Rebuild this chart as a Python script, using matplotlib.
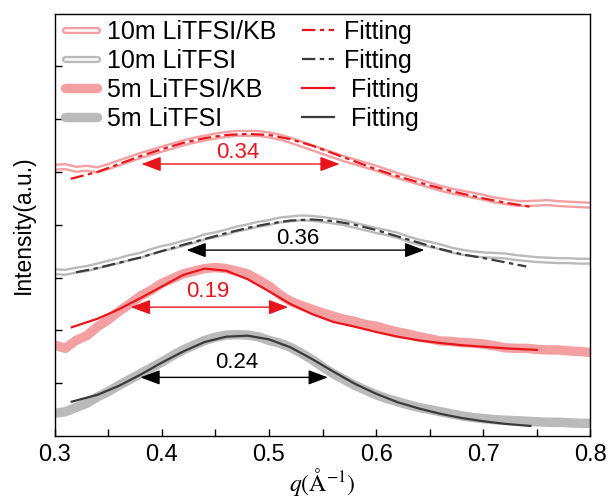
import matplotlib
matplotlib.use('Agg')
import matplotlib.pyplot as plt
import matplotlib.patheffects as pe
import numpy as np

# q grid of the measured curves (0.30 ... 0.80)
q = np.round(np.arange(0.30, 0.8001, 0.01), 2)

kb10 = [5.09, 5.10, 5.05, 5.07, 5.04, 5.10, 5.17, 5.24, 5.31, 5.37, 5.43, 5.49, 5.55, 5.60, 5.64, 5.68,
        5.71, 5.73, 5.73, 5.73, 5.70, 5.66, 5.60, 5.53, 5.46, 5.39, 5.32, 5.25, 5.19, 5.13, 5.07, 5.00,
        4.93, 4.87, 4.81, 4.75, 4.69, 4.64, 4.60, 4.56, 4.52, 4.47, 4.44, 4.41, 4.40, 4.41, 4.42, 4.40,
        4.39, 4.38, 4.37]
li10 = [3.11, 3.10, 3.14, 3.17, 3.22, 3.27, 3.32, 3.38, 3.42, 3.49, 3.55, 3.59, 3.65, 3.70, 3.77, 3.81,
        3.86, 3.92, 3.96, 4.01, 4.04, 4.09, 4.11, 4.13, 4.12, 4.10, 4.07, 4.04, 3.99, 3.94, 3.89, 3.85,
        3.80, 3.73, 3.67, 3.63, 3.58, 3.52, 3.48, 3.45, 3.43, 3.42, 3.41, 3.38, 3.36, 3.34, 3.33, 3.32,
        3.32, 3.31, 3.31]
kb5 = [1.72, 1.66, 1.81, 1.90, 2.07, 2.20, 2.36, 2.50, 2.65, 2.76, 2.89, 2.98, 3.07, 3.12, 3.17, 3.19,
       3.17, 3.12, 3.07, 2.96, 2.84, 2.68, 2.55, 2.47, 2.40, 2.33, 2.27, 2.21, 2.17, 2.11, 2.08, 2.02,
       1.97, 1.93, 1.88, 1.84, 1.80, 1.79, 1.77, 1.76, 1.74, 1.71, 1.67, 1.66, 1.66, 1.64, 1.63, 1.63,
       1.61, 1.60, 1.58]
li5 = [0.43, 0.46, 0.54, 0.62, 0.74, 0.84, 0.96, 1.07, 1.18, 1.29, 1.40, 1.52, 1.63, 1.72, 1.81, 1.87,
       1.91, 1.92, 1.91, 1.88, 1.81, 1.76, 1.68, 1.57, 1.45, 1.31, 1.18, 1.07, 0.96, 0.87, 0.78, 0.71,
       0.65, 0.59, 0.54, 0.50, 0.46, 0.42, 0.38, 0.35, 0.33, 0.31, 0.30, 0.29, 0.28, 0.27, 0.26, 0.26,
       0.25, 0.24, 0.24]

# fitted curves
qfA = [0.315, 0.34, 0.36, 0.38, 0.40, 0.42, 0.44, 0.46, 0.48, 0.50, 0.52, 0.54, 0.56, 0.58, 0.60,
       0.62, 0.64, 0.66, 0.68, 0.70, 0.72, 0.747]
fitA = [4.87, 5.00, 5.15, 5.30, 5.43, 5.55, 5.64, 5.70, 5.72, 5.70, 5.62, 5.50, 5.35, 5.20, 5.05,
        4.92, 4.80, 4.69, 4.59, 4.50, 4.42, 4.33]
qfB = [0.32, 0.34, 0.36, 0.38, 0.40, 0.42, 0.44, 0.46, 0.48, 0.50, 0.52, 0.54, 0.56, 0.58, 0.60,
       0.62, 0.64, 0.66, 0.68, 0.70, 0.72, 0.74]
fitB = [3.10, 3.18, 3.28, 3.38, 3.50, 3.62, 3.73, 3.84, 3.94, 4.02, 4.08, 4.10, 4.07, 4.00, 3.90,
        3.78, 3.66, 3.54, 3.44, 3.37, 3.29, 3.21]
qfC = [0.316, 0.34, 0.36, 0.38, 0.40, 0.42, 0.44, 0.46, 0.48, 0.50, 0.52, 0.54, 0.56, 0.58, 0.60,
       0.62, 0.64, 0.66, 0.68, 0.70, 0.72, 0.75]
fitC = [2.06, 2.22, 2.40, 2.61, 2.83, 3.05, 3.17, 3.13, 2.97, 2.74, 2.50, 2.31, 2.16, 2.07, 1.97,
        1.88, 1.81, 1.76, 1.72, 1.69, 1.66, 1.63]
qfD = [0.316, 0.34, 0.36, 0.38, 0.40, 0.42, 0.44, 0.46, 0.48, 0.50, 0.52, 0.54, 0.56, 0.58, 0.60,
       0.62, 0.64, 0.66, 0.68, 0.70, 0.72, 0.744]
fitD = [0.65, 0.78, 0.95, 1.16, 1.39, 1.60, 1.78, 1.88, 1.90, 1.83, 1.68, 1.46, 1.22, 0.99, 0.80,
        0.64, 0.52, 0.42, 0.34, 0.28, 0.23, 0.19]

# FWHM arrows: (q_left, q_right, y, label, label_q, label_y)
fwhm = [
    (0.381, 0.566, 5.15, '0.34', 0.471, 5.36),
    (0.423, 0.645, 3.52, '0.36', 0.527, 3.74),
    (0.371, 0.518, 2.44, '0.19', 0.443, 2.73),
    (0.380, 0.555, 1.11, '0.24', 0.470, 1.40),
]

pink = '#f4a0a3'
grey = '#bababa'
red = '#e8161c'
dark = '#3a3a3a'

plt.rcParams['font.family'] = ['Liberation Sans', 'DejaVu Sans']
plt.rcParams['mathtext.fontset'] = 'stix'

fig = plt.figure(figsize=[6.11, 5.0], dpi=100)
ax = fig.add_axes([0.0894, 0.128, 0.877, 0.845])

hollow_pink = [pe.Stroke(linewidth=5.2, foreground=pink), pe.Normal()]
hollow_grey = [pe.Stroke(linewidth=5.2, foreground=grey), pe.Normal()]

h1, = ax.plot(q, kb10, color='white', lw=1.8, solid_capstyle='round', solid_joinstyle='round',
              path_effects=hollow_pink)
h2, = ax.plot(q, li10, color='white', lw=1.8, solid_capstyle='round', solid_joinstyle='round',
              path_effects=hollow_grey)
h3, = ax.plot(q, kb5, color=pink, lw=6.8, solid_capstyle='round')
h4, = ax.plot(q, li5, color=grey, lw=6.8, solid_capstyle='round')

f1, = ax.plot(qfA, fitA, color=red, lw=1.6, dashes=(6, 2, 2, 2))
f2, = ax.plot(qfB, fitB, color=dark, lw=1.6, dashes=(6, 2, 2, 2))
f3, = ax.plot(qfC, fitC, color=red, lw=1.6)
f4, = ax.plot(qfD, fitD, color=dark, lw=1.6)

for (x0, x1, y, txt, tx, ty), c in zip(fwhm, [red, 'black', red, 'black']):
    ax.annotate('', xy=(x1, y), xytext=(x0, y),
                arrowprops=dict(arrowstyle='<|-|>,head_length=0.8,head_width=0.3', color=c,
                                lw=1, mutation_scale=15, shrinkA=0, shrinkB=0))
    ax.text(tx, ty, txt, color=c, fontsize=16, ha='center', va='center')

ax.set_xlim(0.3, 0.8)
ax.set_ylim(0, 8)
ax.set_xticks([0.3, 0.4, 0.5, 0.6, 0.7, 0.8])
ax.set_xticks([0.35, 0.45, 0.55, 0.65, 0.75], minor=True)
ax.set_yticks([1, 2, 3, 4, 5, 6, 7])
ax.set_yticklabels([])
ax.tick_params(which='both', direction='in', length=5, width=1, labelsize=17, pad=6)
for s in ax.spines.values():
    s.set_linewidth(1)

ax.set_xlabel(r'$q(\mathrm{\AA}^{-1})$', fontsize=17, labelpad=0)
ax.set_ylabel('Intensity(a.u.)', fontsize=16.5, labelpad=8)

ax.legend([h1, h2, h3, h4, f1, f2, f3, f4],
          ['10m LiTFSI/KB', '10m LiTFSI', '5m LiTFSI/KB', '5m LiTFSI',
           'Fitting', 'Fitting', ' Fitting', ' Fitting'],
          ncol=2, frameon=False, fontsize=18, loc='upper left',
          bbox_to_anchor=(0.014, 0.99), borderaxespad=0, borderpad=0.1,
          handlelength=1.3, handletextpad=0.4, columnspacing=1.0, labelspacing=0.2)

plt.savefig('out.png', dpi=100)
